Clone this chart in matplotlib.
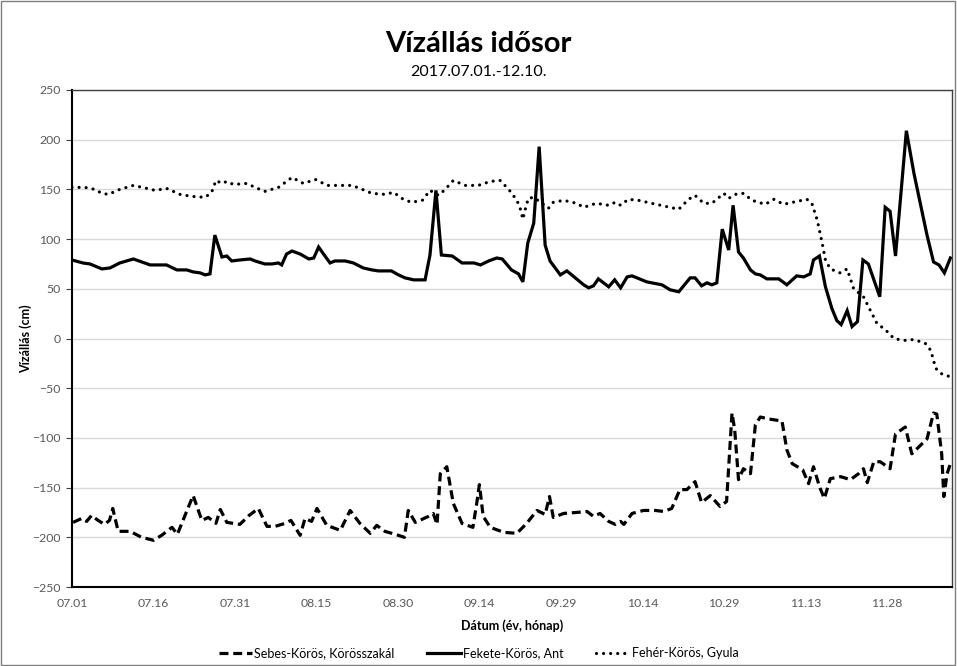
import datetime as dt
import matplotlib
matplotlib.use('Agg')
import matplotlib.pyplot as plt
from matplotlib.patches import Rectangle

plt.rcParams['font.family'] = ['Lato', 'DejaVu Sans']

# days counted from 2017.07.01, water level in cm
fekete_days = [0, 2, 3.3, 5.5, 7, 8.8, 11.3, 14.4, 17.4, 19.3, 21.1, 22.3, 23.6, 24.5, 25.4, 26.3,
               27.6, 28.5, 29.4, 30.9, 32.8, 33.7, 35.5, 36.8, 38, 38.6, 39.5, 40.5, 42, 43.6, 44.5,
               45.4, 46.3, 47.5, 48.4, 50.3, 51.8, 53.6, 55.2, 56.4, 58.8, 60.1, 61.3, 62.9, 65,
               65.9, 67, 68, 70, 71.8, 74, 75.2, 76.7, 78.2, 79.2, 80.9, 82.2, 83, 83.9, 85, 86,
               87.1, 88, 89.9, 91.1, 94.2, 95.1, 96, 96.9, 98.8, 99.9, 101, 102.2, 103.1, 105.8,
               108.6, 110.1, 111.7, 113.8, 114.7, 115.9, 116.9, 117.8, 118.7, 119.7, 120.9, 121.7,
               122.7, 123.6, 124.9, 125.8, 126.7, 127.9, 130.1, 131.6, 133.4, 134.7, 135.9, 136.5,
               137.6, 138.7, 139.9, 140.8, 141.6, 142.7, 143.6, 144.6, 145.6, 146.6, 148.7, 149.7,
               150.6, 151.6, 153.6, 155, 157.4, 158.6, 159.6, 160.6, 161.7]
fekete_vals = [79, 76, 75, 70, 71, 76, 80, 74, 74, 69, 69, 67, 66, 64, 65, 104,
               82, 83, 78, 79, 80, 78, 75, 75, 76, 74, 85, 88, 85, 80, 81,
               92, 85, 76, 78, 78, 76, 71, 69, 68, 68, 64, 61, 59, 59,
               84, 149, 84, 83, 76, 76, 74, 78, 81, 80, 69, 65, 57, 96, 116, 193,
               94, 78, 64, 68, 54, 51, 53, 60, 52, 59, 51, 62, 63, 57,
               54, 49, 47, 61, 61, 53, 56, 54, 56, 110, 89, 134,
               87, 81, 69, 65, 64, 60, 60, 54, 63, 62, 65, 79,
               83, 52, 30, 18, 14, 28, 12, 17, 79, 75, 42, 132,
               128, 83, 209, 166, 104, 77, 74, 66, 81]

feher_days = [0, 2.4, 4.2, 5.5, 6.7, 8.8, 11.3, 13.8, 15.3, 17.4, 19.9, 22, 24.5, 25.7, 26.5,
              27.6, 28.5, 29.7, 32.2, 33.7, 35.5, 38, 40.5, 42.6, 44.8, 47, 49, 51.5, 53, 55.2,
              57.6, 59.2, 61, 62.5, 64.5, 65.9, 67.5, 68.7, 70.2, 72.4, 74.8, 77, 78.8, 80.4,
              81.9, 82.5, 83, 83.4, 84, 85, 86.5, 87.7, 88.6, 90.5, 92.9, 94.2, 96.5, 98.8, 100,
              101, 102.4, 104.3, 106.7, 109.2, 111.7, 113.5, 114.7, 116.3, 117.8, 120, 120.9,
              122.1, 123.6, 125.2, 127.6, 129.2, 131, 133.5, 135.3, 136.2, 137.2, 138.1, 138.7,
              139.6, 141.4, 142.7, 143.9, 145.7, 146.9, 148.2, 149.7, 151.3, 153.1, 155, 157.1,
              158.1, 159, 160.2, 161.4]
feher_vals = [152, 152, 150, 146, 145, 150, 154, 151, 149, 151, 145, 143, 142, 147, 159,
              156, 158, 155, 156, 152, 148, 152, 162, 156, 160, 154, 154, 154, 151, 146,
              145, 147, 140, 137, 139, 149, 144, 150, 159, 154, 154, 158, 159, 150,
              139, 131, 120, 129, 141, 142, 136, 131, 137, 139, 136, 132, 136, 134, 137,
              134, 140, 139, 136, 133, 130, 140, 144, 136, 136, 146, 141,
              145, 146, 139, 135, 140, 135, 138, 140, 136, 119, 96, 79,
              70, 66, 70, 50, 42, 29, 15, 9, 0, -2, -1, -5,
              -12, -30, -36, -38]

sebes_days = [0.2, 1.8, 2.7, 3.6, 4.8, 6, 6.9, 7.5, 8.5, 10.7, 12.8, 15, 16.5, 18.4, 19.4, 20.8,
              22.3, 23.9, 25.1, 26.5, 27.3, 28.5, 30.9, 32.6, 34.3, 35.9, 37.4, 39.2, 40.3, 42,
              42.9, 44.1, 45.1, 46.9, 49.4, 51.2, 53, 54.9, 56.1, 57.6, 59.5, 61.2, 61.9, 63.2,
              65.6, 66.5, 67.2, 67.8, 69, 70.2, 71.8, 73.8, 74.5, 75, 75.7, 77, 79.5, 81.9, 83.7,
              85.6, 87.1, 87.9, 88.6, 90.5, 92.9, 94.8, 96, 97.2, 98.8, 100, 101, 101.6, 103.1,
              105.2, 107.4, 108.9, 110.4, 111.9, 113.2, 114.7, 115.9, 117.5, 119.3, 120.5, 121.5,
              122, 122.7, 123.6, 124.9, 125.8, 126.7, 128.3, 130.7, 131.6, 132.6, 134.5, 135.6,
              136.5, 137.6, 138.5, 139.6, 141.5, 143.3, 144.8, 145.7, 146.4, 147.6, 148.8, 150.6,
              151.6, 153.4, 154.6, 157.4, 158.6, 159.2, 160.1, 160.5, 161.1, 161.7]
sebes_vals = [-185, -181, -184, -178, -183, -187, -183, -171, -194, -194, -200, -203, -198, -190, -197, -178,
              -158, -183, -180, -186, -172, -185, -187, -178, -171, -189, -189, -186, -183, -198,
              -181, -184, -171, -188, -193, -173, -186, -196, -188, -194, -197, -200, -173, -185,
              -179, -176, -187, -136, -129, -166, -186, -190, -166, -147, -179, -190, -195, -196, -186,
              -173, -177, -159, -180, -176, -175, -174, -179, -176, -184, -187, -184, -187, -176,
              -173, -173, -174, -171, -152, -152, -144, -165, -158, -169, -164, -75,
              -92, -142, -131, -136, -87, -79, -81, -83, -112, -126, -132, -146,
              -129, -149, -161, -141, -139, -142, -136, -131, -145, -124, -124, -131,
              -96, -89, -116, -101, -75, -76, -116, -159, -136, -126]

series_names = ['Sebes-Körös, Körösszakál', 'Fekete-Körös, Ant', 'Fehér-Körös, Gyula']
start = dt.date(2017, 7, 1)
tick_days = list(range(0, 151, 15))
tick_labels = [(start + dt.timedelta(days=d)).strftime('%m.%d') for d in tick_days]

fig = plt.figure(figsize=(9.57, 6.66), dpi=100)
ax = fig.add_axes([72 / 957, 1 - 587 / 666, 880 / 957, 497 / 666])

lw = 2.3
ax.plot(sebes_days, sebes_vals, color='black', lw=lw, linestyle=(0, (2.8, 1.5)),
        label=series_names[0])
ax.plot(fekete_days, fekete_vals, color='black', lw=lw, solid_joinstyle='miter',
        label=series_names[1])
ax.plot(feher_days, feher_vals, color='black', lw=lw, linestyle=(0, (0.01, 2.2)),
        dash_capstyle='round', label=series_names[2])

ax.set_xlim(0, 162)
ax.set_ylim(-250, 250)
ax.set_yticks(range(-250, 251, 50))
ax.set_xticks(tick_days)
ax.set_xticklabels(tick_labels)
ax.grid(axis='y', color='#d9d9d9', lw=1)
ax.set_axisbelow(True)
ax.tick_params(axis='both', labelsize=8.8, labelcolor='#595959')
ax.tick_params(axis='y', length=4, color='#404040', pad=4)
ax.tick_params(axis='x', length=0, pad=8)
for s in ['left', 'bottom']:
    ax.spines[s].set_linewidth(1.5)
    ax.spines[s].set_color('black')
for s in ['top', 'right']:
    ax.spines[s].set_linewidth(1)
    ax.spines[s].set_color('#404040')

ax.set_ylabel('Vízállás (cm)', fontsize=9, fontweight='bold', labelpad=0)
ax.set_xlabel('Dátum (év, hónap)', fontsize=9, fontweight='bold', labelpad=7)

fig.text(0.5, 1 - 44 / 666, 'Vízállás idősor', ha='center', va='center',
         fontsize=21, fontweight='bold')
fig.text(0.5, 1 - 72 / 666, '2017.07.01.-12.10.', ha='center', va='center', fontsize=11.5)

fig.legend(loc='center', bbox_to_anchor=(0.5, 1 - 653 / 666), ncol=3, frameon=False,
           fontsize=9, handlelength=2.7, columnspacing=2.6, handletextpad=0.15)

fig.patches.append(Rectangle((0.001, 0.001), 0.997, 0.997, transform=fig.transFigure,
                             fill=False, edgecolor='#7f7f7f', lw=1))

fig.savefig('out.png', dpi=100)
